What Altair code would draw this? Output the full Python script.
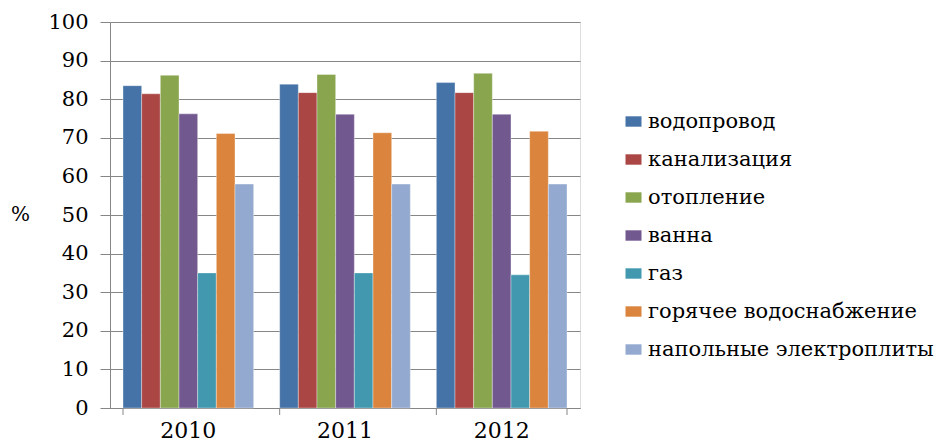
import altair as alt
import pandas as pd

years = ["2010", "2011", "2012"]
series = ["водопровод", "канализация", "отопление", "ванна", "газ",
          "горячее водоснабжение", "напольные электроплиты"]
vodoprovod = [83.5, 83.9, 84.3]
kanalizaciya = [81.4, 81.7, 81.7]
otoplenie = [86.2, 86.4, 86.7]
vanna = [76.2, 76.1, 76.1]
gaz = [35.0, 35.0, 34.5]
goryachee = [71.1, 71.3, 71.7]
elektroplity = [58.0, 58.0, 58.0]
colors = ["#4572A7", "#AA4643", "#89A54E", "#71588F", "#4198AF", "#DB843D", "#93A9CF"]

vals = [vodoprovod, kanalizaciya, otoplenie, vanna, gaz, goryachee, elektroplity]
rows = []
for s, v in zip(series, vals):
    for y, val in zip(years, v):
        rows.append({"year": y, "series": s, "value": val})
df = pd.DataFrame(rows)
ticks_df = pd.DataFrame({"year": years})

FONT = "DejaVu Serif"
GRID = "#868686"

xscale = alt.Scale(domain=years, paddingInner=0.166, paddingOuter=0.083)

bars = alt.Chart(df).mark_bar(stroke="white", strokeWidth=0.6, strokeOpacity=0.6).encode(
    x=alt.X("year:N", scale=xscale, sort=years,
            axis=alt.Axis(title=None, labelAngle=0, ticks=False, domainColor=GRID,
                          labelFont=FONT, labelFontSize=22, labelColor="black",
                          labelPadding=12, grid=False)),
    xOffset=alt.XOffset("series:N", sort=series, scale=alt.Scale(paddingInner=0, paddingOuter=0)),
    y=alt.Y("value:Q", scale=alt.Scale(domain=[0, 100], nice=False),
            axis=alt.Axis(title="%", titleAngle=0, titleFont=FONT, titleFontSize=20,
                          titleFontWeight="normal", titleColor="black",
                          titleX=-90, titleY=202, titleAlign="center",
                          values=list(range(0, 101, 10)), tickSize=10, tickColor=GRID,
                          domainColor=GRID, gridColor=GRID, labelFont=FONT,
                          labelFontSize=21, labelColor="black", labelPadding=12)),
    color=alt.Color("series:N", sort=series,
                    scale=alt.Scale(domain=series, range=colors),
                    legend=alt.Legend(title=None, orient="none", legendX=513, legendY=89,
                                      labelFont=FONT, labelFontSize=21, labelColor="black",
                                      symbolType="M-1,-0.65H1V0.65H-1Z", symbolSize=256,
                                      symbolStrokeWidth=0, labelOffset=4, rowPadding=16,
                                      labelLimit=400)),
)

tick_start = alt.Chart(ticks_df).mark_rule(color=GRID).encode(
    x=alt.X("year:N", sort=years, bandPosition=0),
    y=alt.value(386), y2=alt.value(393),
)
tick_end = alt.Chart(ticks_df).transform_filter(alt.datum.year == years[-1]).mark_rule(color=GRID).encode(
    x=alt.X("year:N", sort=years, bandPosition=1),
    y=alt.value(386), y2=alt.value(393),
)

chart = alt.layer(bars, tick_start, tick_end).properties(
    width=470, height=386,
    autosize=alt.AutoSizeParams(type="none"),
    padding={"left": 110, "top": 22, "right": 364, "bottom": 34},
).configure_view(stroke=None).configure(background="white")

chart.save("out.html", embed_options={"renderer": "svg", "actions": False})
